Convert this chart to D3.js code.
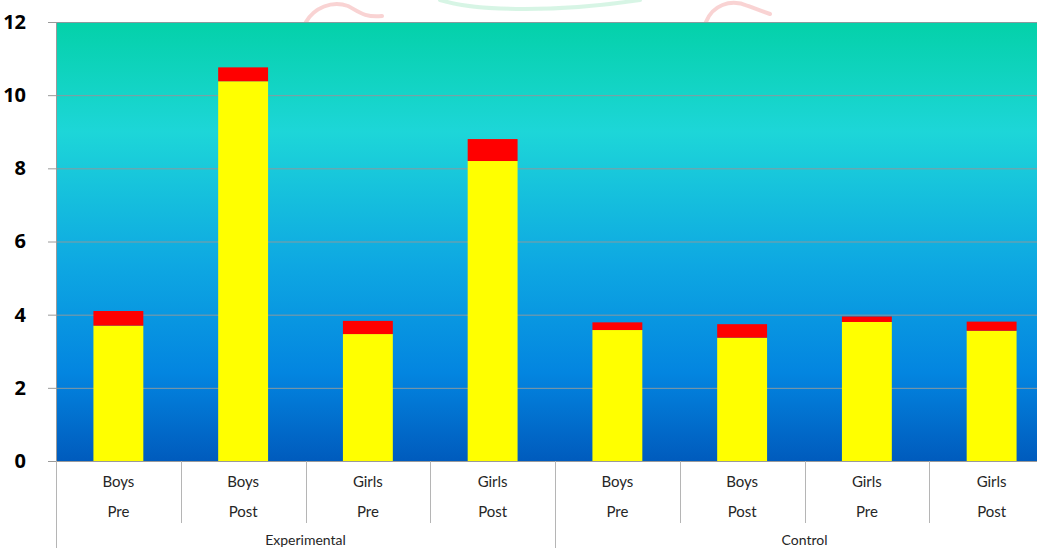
<!DOCTYPE html>
<html><head><meta charset="utf-8">
<script src="https://cdn.jsdelivr.net/npm/d3@7"></script>
<style>body{margin:0;background:#fff}svg{display:block}</style>
</head><body>
<svg id="c" width="1037" height="548"></svg>
<script>
const subgroups = ["Boys","Boys","Girls","Girls","Boys","Boys","Girls","Girls"];
const phases = ["Pre","Post","Pre","Post","Pre","Post","Pre","Post"];
const groups = ["Experimental","Control"];
const baseValues = [3.7, 10.38, 3.47, 8.2, 3.58, 3.37, 3.8, 3.56];
const topValues = [0.4, 0.38, 0.36, 0.6, 0.21, 0.37, 0.15, 0.25];
const yTicks = [0, 2, 4, 6, 8, 10, 12];

const svg = d3.select("#c");
const L = 56, R = 1054, VIS = 1037, T = 22, B = 461;
const idx = d3.range(subgroups.length);
const x = d3.scaleBand().domain(idx).range([L, R]).paddingInner(0.6).paddingOuter(0.3);
const xc = d3.scaleBand().domain(idx).range([L, R]);
const y = d3.scaleLinear().domain([0, 12]).range([B, T]);

// watermark arcs
const wm = svg.append("g").attr("fill","none").attr("stroke-linecap","round");
wm.append("path").attr("d","M306,22 C314,8 332,0 348,6 C358,11 364,18 382,16").attr("stroke","#f7c0c0").attr("stroke-width",4).attr("opacity",0.7);
wm.append("path").attr("d","M440,0 C480,12 560,12 640,0").attr("stroke","#cdf2de").attr("stroke-width",4).attr("opacity",0.8);
wm.append("path").attr("d","M706,22 C712,6 730,-2 748,6 L770,14").attr("stroke","#f7c0c0").attr("stroke-width",4).attr("opacity",0.7);

const defs = svg.append("defs");
const g = defs.append("linearGradient").attr("id","bg").attr("x1",0).attr("y1",0).attr("x2",0).attr("y2",1);
[[0,"#04d1a9"],[0.25,"#1dd6d8"],[0.55,"#0ea8e2"],[0.8,"#0385e0"],[1,"#005bbd"]]
  .forEach(([o,c])=>g.append("stop").attr("offset",o).attr("stop-color",c));

svg.append("rect").attr("x",L).attr("y",T).attr("width",R-L).attr("height",B-T).attr("fill","url(#bg)");
svg.append("line").attr("x1",L).attr("x2",R).attr("y1",T+0.5).attr("y2",T+0.5).attr("stroke","#8a9a9e");

// gridlines
svg.append("g").selectAll("line").data(yTicks.filter(d=>d>0)).join("line")
  .attr("x1",L).attr("x2",R).attr("y1",d=>y(d)+0.5).attr("y2",d=>y(d)+0.5)
  .attr("stroke","#8a9a9e").attr("stroke-width",1);

// y axis
const yAxis = svg.append("g").attr("transform",`translate(${L},0)`)
  .call(d3.axisLeft(y).tickValues(yTicks).tickSize(8).tickPadding(22));
yAxis.select(".domain").attr("stroke","#9a9a9a");
yAxis.selectAll(".tick line").attr("stroke","#9a9a9a");
yAxis.selectAll("text").attr("font-family","'Open Sans', 'Noto Sans', sans-serif").attr("font-weight","bold")
  .attr("font-size",20).attr("fill","#000");

// bars
svg.append("g").selectAll("rect").data(idx).join("rect")
  .attr("x",i=>x(i)).attr("width",x.bandwidth())
  .attr("y",i=>y(baseValues[i])).attr("height",i=>y(0)-y(baseValues[i]))
  .attr("fill","#ffff00");
svg.append("g").selectAll("rect").data(idx).join("rect")
  .attr("x",i=>x(i)).attr("width",x.bandwidth())
  .attr("y",i=>y(baseValues[i]+topValues[i])).attr("height",i=>y(baseValues[i])-y(baseValues[i]+topValues[i]))
  .attr("fill","#ff0000");

// x axis line
svg.append("line").attr("x1",L).attr("x2",R).attr("y1",B+0.5).attr("y2",B+0.5).attr("stroke","#9a9a9a");

// category separators
const ax = svg.append("g");
idx.forEach(i=>{
  const xs = xc(i);
  const groupStart = i % 4 === 0;
  ax.append("line").attr("x1",Math.round(xs)+0.5).attr("x2",Math.round(xs)+0.5)
    .attr("y1",B).attr("y2",groupStart?548:523).attr("stroke","#b5b5b5");
});
const font = "'Lato', 'Open Sans', sans-serif";
ax.selectAll("text.s").data(idx).join("text").attr("class","s")
  .attr("x",i=>xc(i)+xc.bandwidth()/2).attr("y",487).attr("text-anchor","middle")
  .attr("font-family",font).attr("font-size",15).attr("fill","#262626").text(i=>subgroups[i]);
ax.selectAll("text.p").data(idx).join("text").attr("class","p")
  .attr("x",i=>xc(i)+xc.bandwidth()/2).attr("y",517).attr("text-anchor","middle")
  .attr("font-family",font).attr("font-size",15).attr("fill","#262626").text(i=>phases[i]);
ax.selectAll("text.g").data(groups).join("text").attr("class","g")
  .attr("x",(d,j)=>xc(j*4)+xc.bandwidth()*2).attr("y",545).attr("text-anchor","middle")
  .attr("font-family",font).attr("font-size",14).attr("fill","#262626").text(d=>d);
</script>
</body></html>
